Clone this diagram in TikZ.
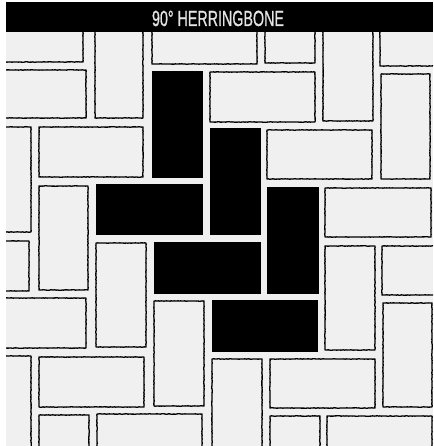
\documentclass[tikz,border=0pt]{standalone}
\usepackage{fontspec}
\usepackage{graphicx}
\setmainfont{Liberation Sans}
\newfontfamily\herringtitle[FakeBold=1]{Liberation Sans}
\usetikzlibrary{decorations.pathmorphing}
\definecolor{tilegray}{HTML}{F0F0F0}
\definecolor{titletext}{HTML}{E4E4E4}
\begin{document}
\begin{tikzpicture}[x=1pt,y=-1pt,
  brick/.style={draw=black, line width=1.3pt, line join=round, decorate,
    decoration={random steps, segment length=1.3pt, amplitude=0.22pt}},
  darkbrick/.style={fill=black, draw=black, line width=0.5pt},
  titlebar/.style={fill=black},
  titletxt/.style={text=titletext, inner sep=0pt, anchor=base, font=\herringtitle}]
\pgfmathsetseed{7}
\useasboundingbox (0,0) rectangle (433,446);
\fill[white] (0,0) rectangle (433,446);
\fill[tilegray] (6,32) rectangle (433,446);
\begin{scope}
  \clip (6,32) rectangle (433,446);
  \foreach \a/\b/\c/\d in {
    -10/20/83/62, 95/10/143/118, 152/10/257/64, 265/10/315/63,
    323/14/373/121, 380/10/445/66, -10/70/86/118, 210/72/315/122,
    381/74/430/179, -10/127/31/232, 39/127/143/177, 267/130/372/179,
    39/186/88/290, 325/188/431/237, -10/241/29/291, 96/243/146/347,
    325/246/375/350, 382/246/445/295, -10/298/86/348, 154/301/204/406,
    383/303/432/407, -10/356/31/460, 39/357/144/407, 212/359/262/460,
    270/359/375/408, 39/415/89/460, 97/414/202/460, 270/416/320/460,
    327/416/432/460}
    {\draw[brick] (\a,\b) rectangle (\c,\d);}
  \foreach \a/\b/\c/\d in {
    152/71/202/177, 210/128/260/234, 267/187/318/293,
    96/184/202/234, 154/242/260/293, 212/300/317/351}
    {\draw[darkbrick] (\a,\b) rectangle (\c,\d);}
\end{scope}
\fill[titlebar] (6,2) rectangle (433,32);
\node[titletxt] (title) at (218,26) {\resizebox{132pt}{15.3pt}{90° HERRINGBONE}};
\end{tikzpicture}
\end{document}
